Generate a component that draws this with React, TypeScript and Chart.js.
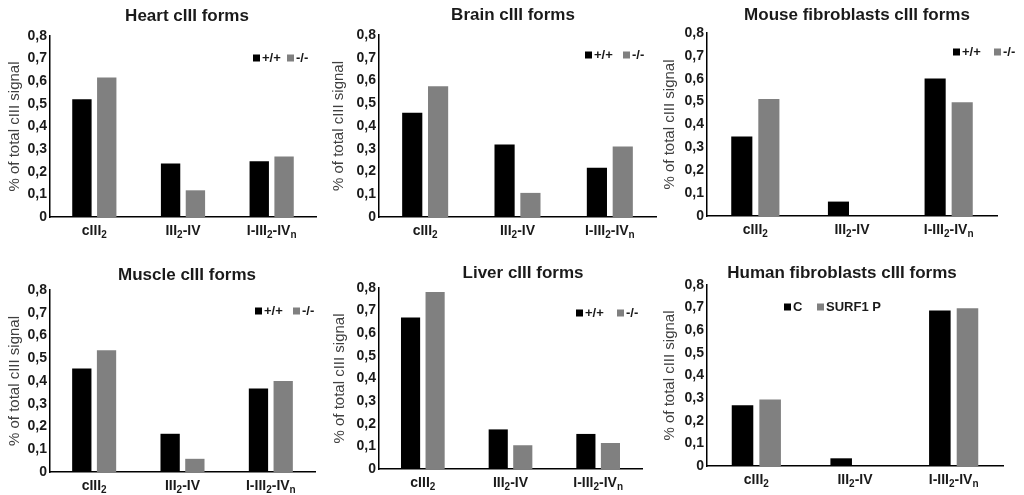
import React, { useEffect, useRef } from 'react';
import { Chart, registerables } from 'chart.js';

Chart.register(...registerables);

// ---------- data ----------
const categories = ['cIII\u2082', 'III\u2082-IV', 'I-III\u2082-IV\u2099'];
const mouseLabels = ['+/+', '-/-'];
const humanLabels = ['C', 'SURF1 P'];
const yAxisTitle = '% of total cIII signal';

const heartWT = [0.52, 0.237, 0.246];
const heartKO = [0.617, 0.118, 0.267];
const brainWT = [0.458, 0.319, 0.216];
const brainKO = [0.575, 0.106, 0.31];
const mouseFibWT = [0.348, 0.063, 0.601];
const mouseFibKO = [0.512, 0, 0.497];
const muscleWT = [0.455, 0.168, 0.367];
const muscleKO = [0.535, 0.058, 0.4];
const liverWT = [0.67, 0.175, 0.155];
const liverKO = [0.782, 0.105, 0.115];
const humanC = [0.269, 0.034, 0.687];
const humanP = [0.294, 0, 0.697];

// ---------- styling ----------
const FONT = '"Liberation Sans", Arial, Helvetica, sans-serif';
const BLACK = '#000000';
const GRAY = '#808080';
const TEXT = '#1a1a1a';
const AXIS_W = 50;
const XAXIS_H = 30;
const TITLE_SIZE = 17;
const YTITLE_SIZE = 15;
const SUBSCRIPTS: Record<string, string> = { '\u2082': '2', '\u2099': 'n' };

interface PanelSpec {
  title: string;
  labels: string[];
  wt: number[];
  ko: number[];
  plotLeft: number;
  plotRight: number;
  plotTop: number;
  plotBottom: number;
  titleX: number;
  titleY: number;
  yTitleX: number;
  canvasTop: number;
  canvasH: number;
  legendX: number[];
  legendY: number;
}

const panels: PanelSpec[] = [
  { title: 'Heart cIII forms', labels: mouseLabels, wt: heartWT, ko: heartKO,
    plotLeft: 50, plotRight: 316, plotTop: 36, plotBottom: 217, titleX: 187, titleY: 16, yTitleX: 15,
    canvasTop: 0, canvasH: 246, legendX: [253, 287], legendY: 58 },
  { title: 'Brain cIII forms', labels: mouseLabels, wt: brainWT, ko: brainKO,
    plotLeft: 379, plotRight: 656, plotTop: 35, plotBottom: 217, titleX: 513, titleY: 15, yTitleX: 339,
    canvasTop: 0, canvasH: 246, legendX: [585, 623], legendY: 55 },
  { title: 'Mouse fibroblasts cIII forms', labels: mouseLabels, wt: mouseFibWT, ko: mouseFibKO,
    plotLeft: 707, plotRight: 997, plotTop: 33, plotBottom: 216, titleX: 857, titleY: 15, yTitleX: 670,
    canvasTop: 0, canvasH: 246, legendX: [953, 994], legendY: 52 },
  { title: 'Muscle cIII forms', labels: mouseLabels, wt: muscleWT, ko: muscleKO,
    plotLeft: 50, plotRight: 315, plotTop: 290, plotBottom: 472, titleX: 187, titleY: 275, yTitleX: 15,
    canvasTop: 248, canvasH: 247, legendX: [255, 293], legendY: 311 },
  { title: 'Liver cIII forms', labels: mouseLabels, wt: liverWT, ko: liverKO,
    plotLeft: 379, plotRight: 642, plotTop: 288, plotBottom: 469, titleX: 523, titleY: 273, yTitleX: 340,
    canvasTop: 248, canvasH: 247, legendX: [576, 617], legendY: 313 },
  { title: 'Human fibroblasts cIII forms', labels: humanLabels, wt: humanC, ko: humanP,
    plotLeft: 707, plotRight: 1003, plotTop: 285, plotBottom: 466, titleX: 842, titleY: 273, yTitleX: 670,
    canvasTop: 248, canvasH: 247, legendX: [784, 817], legendY: 307 },
];

function splitLabel(label: string): { text: string; sub: boolean }[] {
  const parts: { text: string; sub: boolean }[] = [];
  for (const ch of label) {
    const sub = ch in SUBSCRIPTS;
    const t = sub ? SUBSCRIPTS[ch] : ch;
    const last = parts[parts.length - 1];
    if (last && last.sub === sub) last.text += t;
    else parts.push({ text: t, sub });
  }
  return parts;
}

function Panel({ spec }: { spec: PanelSpec }) {
  const ref = useRef<HTMLCanvasElement>(null);
  const canvasLeft = spec.plotLeft - AXIS_W;
  const width = Math.min(1024, spec.plotRight + 20) - canvasLeft;

  useEffect(() => {
    if (!ref.current) return;
    const yTitleLH = YTITLE_SIZE * 1.2;
    const plotTopRel = spec.plotTop - spec.canvasTop;
    const plotBottomRel = spec.plotBottom - spec.canvasTop;

    const decorPlugin = {
      id: 'panelDecor',
      afterDraw(chart: any) {
        const ctx = chart.ctx as CanvasRenderingContext2D;
        ctx.save();
        // title
        ctx.font = `bold ${TITLE_SIZE}px ${FONT}`;
        ctx.fillStyle = TEXT;
        ctx.textAlign = 'center';
        ctx.textBaseline = 'middle';
        ctx.fillText(spec.title, spec.titleX - canvasLeft, spec.titleY - spec.canvasTop);
        // category labels with subscripts
        const xs = chart.scales.x;
        const mainFont = `bold 14px ${FONT}`;
        const subFont = `bold 10px ${FONT}`;
        ctx.textAlign = 'left';
        ctx.textBaseline = 'alphabetic';
        const baseY = xs.top + 18;
        (chart.data.labels as string[]).forEach((lab, i) => {
          const parts = splitLabel(lab);
          let total = 0;
          parts.forEach((p) => {
            ctx.font = p.sub ? subFont : mainFont;
            total += ctx.measureText(p.text).width;
          });
          let x = xs.getPixelForValue(i) - total / 2;
          parts.forEach((p) => {
            ctx.font = p.sub ? subFont : mainFont;
            ctx.fillText(p.text, x, p.sub ? baseY + 3 : baseY);
            x += ctx.measureText(p.text).width;
          });
        });
        // legend
        ctx.font = `bold 13px ${FONT}`;
        ctx.textAlign = 'left';
        ctx.textBaseline = 'middle';
        chart.data.datasets.forEach((ds: any, i: number) => {
          const lx = spec.legendX[i] - canvasLeft;
          const ly = spec.legendY - spec.canvasTop;
          ctx.fillStyle = ds.backgroundColor;
          ctx.fillRect(lx, ly - 3.5, 7, 7);
          ctx.fillStyle = TEXT;
          ctx.fillText(ds.label, lx + 9, ly + 0.5);
        });
        ctx.restore();
      },
    };

    const chart = new Chart(ref.current, {
      type: 'bar',
      data: {
        labels: categories,
        datasets: [
          { label: spec.labels[0], data: spec.wt, backgroundColor: BLACK },
          { label: spec.labels[1], data: spec.ko, backgroundColor: GRAY },
        ],
      },
      options: {
        responsive: false,
        animation: false,
        devicePixelRatio: 1,
        events: [],
        layout: {
          padding: {
            left: 0,
            top: plotTopRel,
            right: width - (spec.plotRight - canvasLeft),
            bottom: spec.canvasH - plotBottomRel - XAXIS_H,
          },
        },
        datasets: { bar: { categoryPercentage: 0.56, barPercentage: 0.78 } },
        plugins: {
          legend: { display: false },
          tooltip: { enabled: false },
          title: { display: false },
        },
        scales: {
          x: {
            grid: { display: false, drawTicks: false },
            border: { display: true, color: '#000000', width: 1.5 },
            ticks: { display: false },
            afterFit: (s: any) => { s.height = XAXIS_H; },
          },
          y: {
            min: 0,
            max: 0.8,
            grid: { display: false, drawTicks: false },
            border: { display: true, color: '#000000', width: 1.5 },
            ticks: {
              stepSize: 0.1,
              padding: 3,
              color: TEXT,
              font: { family: FONT, size: 14, weight: 'bold' },
              callback: (v: any) => (Number(v) === 0 ? '0' : Number(v).toFixed(1).replace('.', ',')),
            },
            title: {
              display: true,
              text: yAxisTitle,
              color: '#404040',
              font: { family: FONT, size: YTITLE_SIZE, weight: 'normal' },
              padding: { top: spec.yTitleX - canvasLeft - yTitleLH / 2, bottom: 0 },
            },
            afterFit: (s: any) => { s.width = AXIS_W; },
          },
        },
      },
      plugins: [decorPlugin],
    } as any);
    return () => chart.destroy();
  }, [spec]);

  return (
    <canvas
      ref={ref}
      width={width}
      height={spec.canvasH}
      style={{ position: 'absolute', left: canvasLeft, top: spec.canvasTop, display: 'block' }}
    />
  );
}

export default function App() {
  return (
    <div
      style={{
        position: 'fixed',
        left: 0,
        top: 0,
        width: 1024,
        height: 495,
        overflow: 'hidden',
        background: '#ffffff',
      }}
    >
      {panels.map((p) => (
        <Panel key={p.title} spec={p} />
      ))}
    </div>
  );
}
